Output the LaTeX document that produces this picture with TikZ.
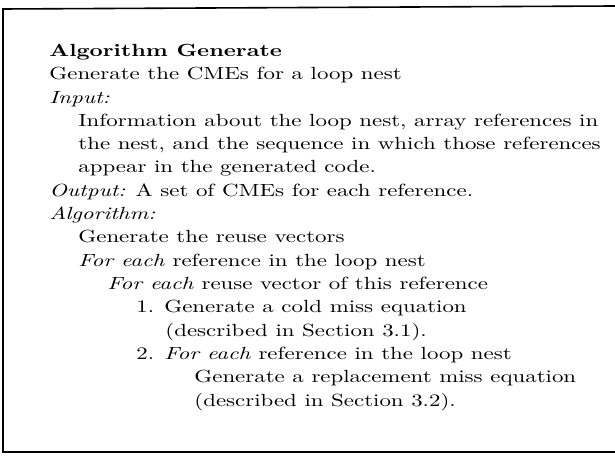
\documentclass[tikz,border=0pt]{standalone}
\usepackage{fontspec}
\setmainfont{lmroman10}[Extension=.otf, UprightFont=*-regular, BoldFont=*-bold,
  ItalicFont=*-italic, BoldItalicFont=*-bolditalic, FakeStretch=1.3]

\tikzset{
  algline/.style={anchor=base west, inner sep=0pt, font=\fontsize{8.8}{10}\selectfont},
  frame/.style={line width=0.8pt}
}
\newcommand{\kw}[1]{\textit{#1}}

\begin{document}
\begin{tikzpicture}[x=0.5pt, y=-0.5pt]
  \useasboundingbox (0,0) rectangle (615,459);

  % Draw the frame (its right side runs off the page)
  \draw[frame] (615,6) -- (3,9) -- (3,452) -- (615,452);

  % Heading and purpose
  \node[algline] (title) at (49,56.5) {\textbf{Algorithm Generate}};
  \node[algline] (purpose) at (49,79.8) {Generate the CMEs for a loop nest};

  % Input
  \node[algline] (inhead) at (49,103.1) {\kw{Input:}};
  \node[algline] (inA) at (78,126.4) {Information about the loop nest, array references in};
  \node[algline] (inB) at (78,149.7) {the nest, and the sequence in which those references};
  \node[algline] (inC) at (78,173) {appear in the generated code.};

  % Output
  \node[algline] (outhead) at (49,196.3) {\kw{Output:} A set of CMEs for each reference.};

  % Algorithm body
  \node[algline] (alghead) at (49,219.6) {\kw{Algorithm:}};
  \node[algline] (reuse) at (78,242.9) {Generate the reuse vectors};
  \node[algline] (loopref) at (78,266.2) {\kw{For each} reference in the loop nest};
  \node[algline] (loopvec) at (107,289.5) {\kw{For each} reuse vector of this reference};

  % Numbered steps
  \node[algline] (stepA) at (136,312.8) {1. Generate a cold miss equation};
  \node[algline] (stepAcont) at (165,336.1) {(described in Section 3.1).};
  \node[algline] (stepB) at (136,359.4) {2. \kw{For each} reference in the loop nest};
  \node[algline] (stepBbody) at (194,382.7) {Generate a replacement miss equation};
  \node[algline] (stepBcont) at (194,406) {(described in Section 3.2).};
\end{tikzpicture}
\end{document}
